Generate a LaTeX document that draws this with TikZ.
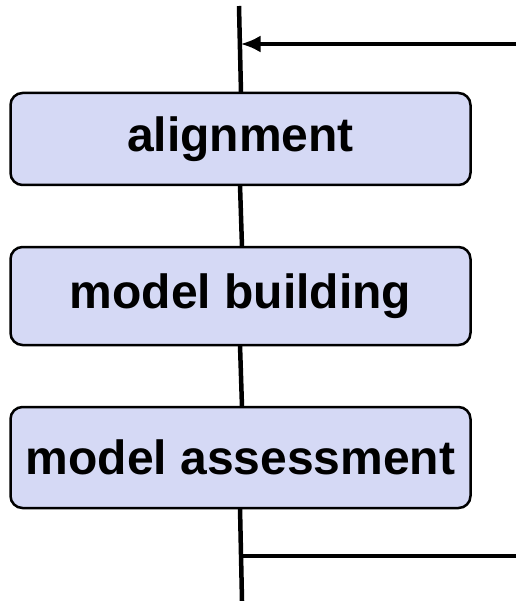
\documentclass[tikz,border=0pt]{standalone}
\usepackage{fontspec}
\setmainfont{Liberation Sans}
\usetikzlibrary{arrows.meta}
\definecolor{boxfill}{HTML}{D5D9F5}
\begin{document}
\begin{tikzpicture}[x=1pt,y=-1pt,
  stepbox/.style={draw=black,line width=2.5pt,fill=boxfill,rounded corners=12pt,
    minimum width=460pt,inner sep=0pt,font=\fontsize{48}{48}\selectfont\bfseries},
  conn/.style={line width=4.5pt}]
\useasboundingbox (0,0) rectangle (516,601);
\node[stepbox,minimum height=92pt] (b1) at (240.5,139) {alignment};
\node[stepbox,minimum height=98pt] (b2) at (240.5,296) {model building};
\node[stepbox,minimum height=101pt] (b3) at (240.5,457.5) {model assessment};
\coordinate (top) at (239,6);
\coordinate (b1t) at (241,93);
\coordinate (b1b) at (240,185);
\coordinate (b2t) at (242,247);
\coordinate (b2b) at (240,345);
\coordinate (b3t) at (242,407);
\coordinate (b3b) at (240,508);
\coordinate (bot) at (242,601);
\coordinate (inR) at (516,44);
\coordinate (inL) at (240.5,44);
\coordinate (outR) at (516,556);
\coordinate (outL) at (241,556);
\draw[conn] (top) -- (b1t);
\draw[conn] (b1b) -- (b2t);
\draw[conn] (b2b) -- (b3t);
\draw[conn] (b3b) -- (bot);
\draw[conn,-{Latex[length=20pt,width=17pt]}] (inR) -- (inL);
\draw[conn] (outR) -- (outL);
\end{tikzpicture}
\end{document}
